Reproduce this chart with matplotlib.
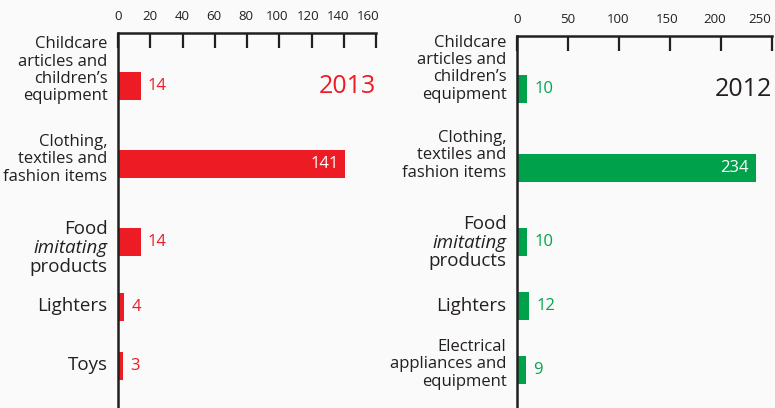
import matplotlib.pyplot as plt
from matplotlib.transforms import ScaledTranslation

# data
cats_2013 = ["Childcare\narticles and\nchildren\u2019s\nequipment",
             "Clothing,\ntextiles and\nfashion items",
             "Food\nimitating\nproducts",
             "Lighters",
             "Toys"]
vals_2013 = [14, 141, 14, 4, 3]
ticks_2013 = [0, 20, 40, 60, 80, 100, 120, 140, 160]

cats_2012 = ["Childcare\narticles and\nchildren\u2019s\nequipment",
             "Clothing,\ntextiles and\nfashion items",
             "Food\nimitating\nproducts",
             "Lighters",
             "Electrical\nappliances and\nequipment"]
vals_2012 = [10, 234, 10, 12, 9]
ticks_2012 = [0, 50, 100, 150, 200, 250]

# layout (row positions, label centres)
pos_2013 = [0, 1.0, 2.0, 2.83, 3.59]
lab_2013 = [-0.20, 0.94, 2.08, 2.82, 3.58]
pos_2012 = [0, 1.01, 1.96, 2.78, 3.60]
lab_2012 = [-0.26, 0.85, 1.97, 2.78, 3.53]

RED = '#ed1c24'
GREEN = '#00a14b'
DARK = '#231f20'
BG = '#fafafa'

plt.rcParams['font.family'] = ['Open Sans', 'DejaVu Sans']

fig = plt.figure(figsize=(7.75, 4.08), dpi=100, facecolor=BG)


def panel(rect, cats, vals, ticks, pos, labpos, color, valcolor, year, yearcolor, ylim, shift):
    ax = fig.add_axes(rect, facecolor=BG)
    ax.barh(pos, vals, height=0.36, color=color, zorder=2)
    ax.set_xlim(ticks[0], ticks[-1])
    ax.set_ylim(*ylim)
    ax.set_xticks(ticks)
    ax.xaxis.tick_top()
    ax.tick_params(axis='x', direction='in', length=11, width=1.6, color=DARK,
                   labelsize=9.5, labelcolor=DARK, pad=7)
    # tick labels drift left toward the right end, as in the original
    for t, lab in zip(ticks, ax.get_xticklabels()):
        dx = -shift * (t / ticks[-1]) ** 3 / 72
        lab.set_transform(lab.get_transform() + ScaledTranslation(dx, 0, fig.dpi_scale_trans))
    ax.set_yticks([])
    for s in ['right', 'bottom']:
        ax.spines[s].set_visible(False)
    for s in ['top', 'left']:
        ax.spines[s].set_linewidth(1.8)
        ax.spines[s].set_color(DARK)
        ax.spines[s].set_zorder(3)

    # category labels, drawn line by line
    for cat, y in zip(cats, labpos):
        lines = cat.split('\n')
        big = len(lines) == 1 or lines[0] == 'Food'
        fs = 13.5 if big else 12
        step = 13.5 if big else 12.5
        n = len(lines)
        for i, ln in enumerate(lines):
            dy = ((n - 1) / 2 - i) * step
            ax.annotate(ln, xy=(0, y), xytext=(-7.5, dy), textcoords='offset points',
                        ha='right', va='center', fontsize=fs, color=DARK,
                        style='italic' if ln == 'imitating' else 'normal',
                        annotation_clip=False)

    # value labels
    top = max(vals)
    for v, y in zip(vals, pos):
        if v == top:
            ax.annotate(str(v), xy=(v, y), xytext=(-5, 0), textcoords='offset points',
                        ha='right', va='center', fontsize=12, color='white', zorder=4)
        else:
            ax.annotate(str(v), xy=(v, y), xytext=(5, 0), textcoords='offset points',
                        ha='left', va='center', fontsize=12, color=valcolor)

    ax.text(ticks[-1], 0, year, ha='right', va='center', fontsize=18, color=yearcolor)
    return ax


panel([118 / 775, 0, 258 / 775, 1 - 33 / 408], cats_2013, vals_2013, ticks_2013,
      pos_2013, lab_2013, RED, RED, '2013', RED, (4.13, -0.68), 6)
panel([517 / 775, 0, 255 / 775, 1 - 36 / 408], cats_2012, vals_2012, ticks_2012,
      pos_2012, lab_2012, GREEN, '#00a651', '2012', DARK, (4.09, -0.68), 9)

fig.savefig('out.png', dpi=100, facecolor=BG)
